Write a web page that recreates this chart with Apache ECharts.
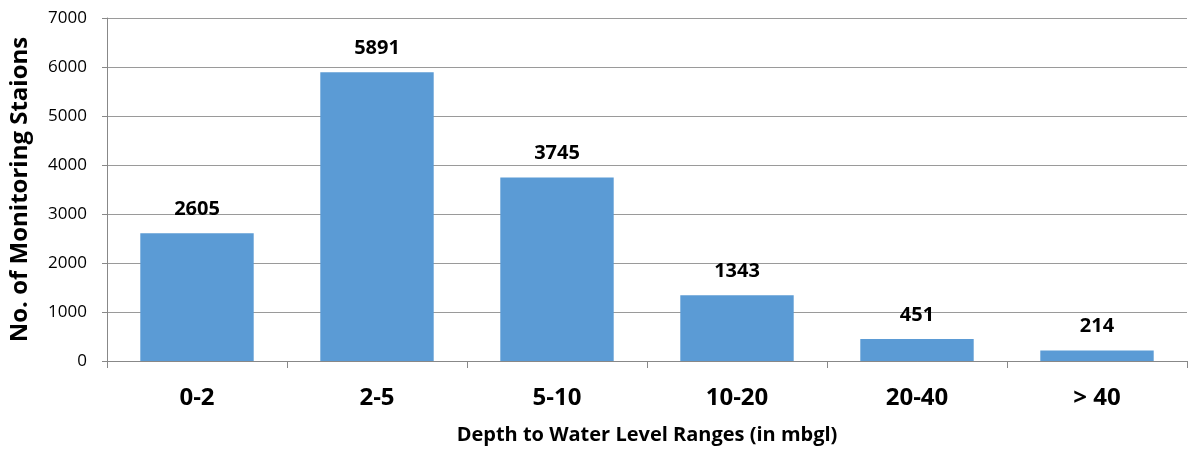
<!DOCTYPE html>
<html>
<head>
<meta charset="utf-8">
<script src="https://cdn.jsdelivr.net/npm/echarts@6/dist/echarts.min.js"></script>
<style>html,body{margin:0;padding:0;background:#fff;}#c{width:1190px;height:457px;}</style>
</head>
<body>
<div id="c"></div>
<script>
const categories = ['0-2', '2-5', '5-10', '10-20', '20-40', '> 40'];
const stations = [2605, 5891, 3745, 1343, 451, 214];
const yTicks = [0, 1000, 2000, 3000, 4000, 5000, 6000, 7000];

const FONT = '"Open Sans", "Liberation Sans", sans-serif';
const chart = echarts.init(document.getElementById('c'), null, {renderer: 'canvas'});
chart.setOption({
  animation: false,
  backgroundColor: '#ffffff',
  grid: {left: 107, top: 18, right: 3, bottom: 96, containLabel: false, outerBoundsMode: 'none'},
  xAxis: {
    type: 'category',
    data: categories,
    name: 'Depth to Water Level Ranges (in mbgl)',
    nameLocation: 'middle',
    nameGap: 64,
    nameTextStyle: {fontFamily: FONT, fontWeight: 'bold', fontSize: 20, color: '#000'},
    axisLine: {lineStyle: {color: '#888', width: 1}},
    axisTick: {show: true, alignWithLabel: false, length: 7, lineStyle: {color: '#888'}},
    axisLabel: {fontFamily: FONT, fontWeight: 'bold', fontSize: 24, color: '#000', margin: 25}
  },
  yAxis: {
    type: 'value',
    min: yTicks[0],
    max: yTicks[yTicks.length - 1],
    interval: 1000,
    name: 'No. of Monitoring Staions',
    nameLocation: 'middle',
    nameGap: 75,
    nameTextStyle: {fontFamily: FONT, fontWeight: 'bold', fontSize: 24, color: '#000'},
    axisLine: {show: true, lineStyle: {color: '#888', width: 1}},
    axisTick: {show: true, length: 5, lineStyle: {color: '#888'}},
    splitLine: {show: true, lineStyle: {color: '#9a9a9a', width: 1}},
    axisLabel: {fontFamily: FONT, fontSize: 17, color: '#000', margin: 20,
      formatter: function (v) { return String(v); }}
  },
  series: [{
    type: 'bar',
    data: stations,
    barCategoryGap: '37%',
    itemStyle: {color: '#5b9bd5'},
    label: {
      show: true,
      position: 'top',
      distance: 14,
      fontFamily: FONT,
      fontWeight: 'bold',
      fontSize: 20,
      color: '#000'
    }
  }]
});
</script>
</body>
</html>
